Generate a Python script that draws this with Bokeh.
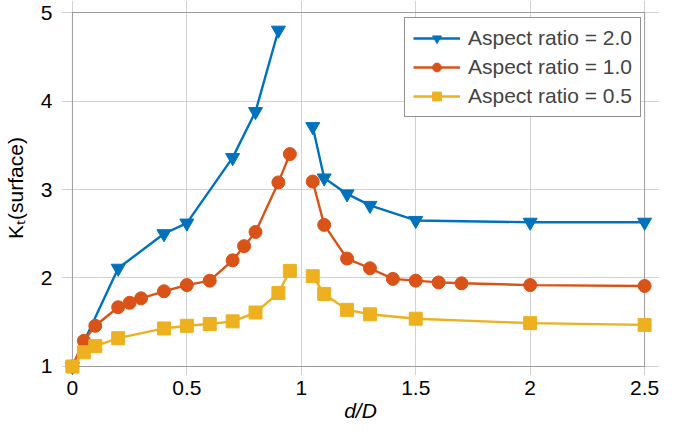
from bokeh.plotting import figure
from bokeh.models import Range1d, FixedTicker, Legend, LegendItem, BoxAnnotation
from bokeh.embed import file_html
from bokeh.resources import INLINE

# ---- data ----
x_ticks = [0, 0.5, 1, 1.5, 2, 2.5]
x_tick_labels = ["0", "0.5", "1", "1.5", "2", "2.5"]
y_ticks = [1, 2, 3, 4, 5]
y_tick_labels = ["1", "2", "3", "4", "5"]

series_labels = ["Aspect ratio = 2.0", "Aspect ratio = 1.0", "Aspect ratio = 0.5"]

x_ar20_left = [0, 0.2, 0.4, 0.5, 0.7, 0.8, 0.9]
k_ar20_left = [1.0, 2.11, 2.50, 2.62, 3.36, 3.88, 4.80]
x_ar20_right = [1.05, 1.1, 1.2, 1.3, 1.5, 2.0, 2.5]
k_ar20_right = [3.71, 3.13, 2.95, 2.82, 2.65, 2.63, 2.63]

x_ar10_left = [0, 0.05, 0.1, 0.2, 0.25, 0.3, 0.4, 0.5, 0.6, 0.7, 0.75, 0.8, 0.9, 0.95]
k_ar10_left = [1.0, 1.29, 1.46, 1.67, 1.72, 1.77, 1.85, 1.92, 1.97, 2.20, 2.36, 2.52, 3.08, 3.40]
x_ar10_right = [1.05, 1.1, 1.2, 1.3, 1.4, 1.5, 1.6, 1.7, 2.0, 2.5]
k_ar10_right = [3.09, 2.60, 2.22, 2.11, 1.99, 1.97, 1.95, 1.94, 1.92, 1.91]

x_ar05_left = [0, 0.05, 0.1, 0.2, 0.4, 0.5, 0.6, 0.7, 0.8, 0.9, 0.95]
k_ar05_left = [1.0, 1.16, 1.23, 1.32, 1.43, 1.46, 1.48, 1.51, 1.61, 1.83, 2.08]
x_ar05_right = [1.05, 1.1, 1.2, 1.3, 1.5, 2.0, 2.5]
k_ar05_right = [2.02, 1.82, 1.64, 1.59, 1.54, 1.49, 1.47]

colors = ["#0072BD", "#D95319", "#EDB120"]
markers = ["inverted_triangle", "circle", "square"]
sizes = [14, 13, 13]

FONT = "Liberation Sans"
FS = "21px"

p = figure(width=659, height=428, output_backend="svg", toolbar_location=None,
           x_range=Range1d(-0.0477, 2.565), y_range=Range1d(0.8983, 5.1356),
           min_border_left=56, min_border_right=0, min_border_top=0, min_border_bottom=53)
p.outline_line_color = None
p.background_fill_color = "white"

for ax, ticks, labels in ((p.xaxis[0], x_ticks, x_tick_labels), (p.yaxis[0], y_ticks, y_tick_labels)):
    ax.ticker = FixedTicker(ticks=ticks)
    ax.major_label_overrides = {t: l for t, l in zip(ticks, labels)}
    ax.axis_line_color = None
    ax.major_tick_line_color = None
    ax.major_tick_out = 0
    ax.major_tick_in = 0
    ax.minor_tick_line_color = None
    ax.major_label_text_font = FONT
    ax.major_label_text_font_size = FS
    ax.major_label_text_color = "black"
    ax.axis_label_text_font = FONT
    ax.axis_label_text_font_size = FS
    ax.axis_label_text_color = "black"

p.xaxis[0].major_label_standoff = 5
p.xaxis[0].axis_label = "d/D"
p.xaxis[0].axis_label_text_font_style = "italic"
p.xaxis[0].axis_label_standoff = 1
p.yaxis[0].major_label_standoff = 9
p.yaxis[0].axis_label = "K\u209c(surface)"
p.yaxis[0].axis_label_text_font_style = "normal"
p.yaxis[0].axis_label_standoff = 11

p.xgrid.ticker = FixedTicker(ticks=x_ticks)
p.ygrid.ticker = FixedTicker(ticks=y_ticks)
for g in (p.xgrid[0], p.ygrid[0]):
    g.grid_line_color = "#d2d2d2"
    g.grid_line_width = 1
    g.level = "image"

# axes box (drawn over the grid, under the data)
p.add_layout(BoxAnnotation(left=x_ticks[0], right=x_ticks[-1], bottom=y_ticks[0], top=y_ticks[-1],
                           fill_alpha=0, line_color="#262626", line_width=1, level="underlay"))

items = []
groups = [
    (x_ar20_left, k_ar20_left, x_ar20_right, k_ar20_right),
    (x_ar10_left, k_ar10_left, x_ar10_right, k_ar10_right),
    (x_ar05_left, k_ar05_left, x_ar05_right, k_ar05_right),
]
for (xl, kl, xr, kr), c, m, s, lab in zip(groups, colors, markers, sizes, series_labels):
    rends = []
    for xs, ks in ((xl, kl), (xr, kr)):
        ln = p.line(xs, ks, line_color=c, line_width=2.4)
        sc = p.scatter(xs, ks, marker=m, size=s, fill_color=c, line_color=c)
        rends += [ln, sc]
    items.append(LegendItem(label=lab, renderers=rends[:2]))

legend = Legend(items=items, location=(343, 258))
legend.label_text_font = FONT
legend.label_text_font_size = FS
legend.glyph_width = 47
legend.glyph_height = 22
legend.label_standoff = 8
legend.padding = 8
legend.spacing = 5
legend.margin = 0
legend.border_line_color = "#262626"
legend.border_line_width = 1
legend.background_fill_alpha = 1
p.add_layout(legend, "center")

open("out.html", "w").write(file_html(p, INLINE))
